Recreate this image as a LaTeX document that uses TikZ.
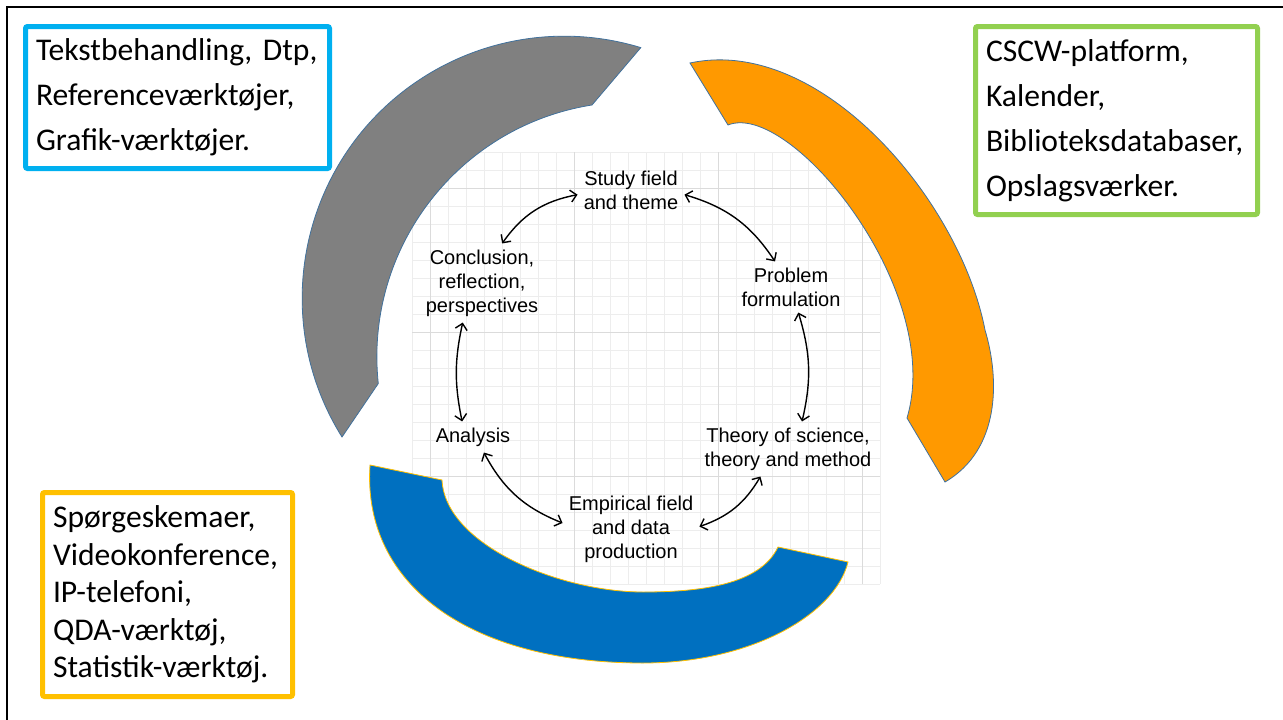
\documentclass[tikz,border=0pt]{standalone}
\usepackage{fontspec}
\setmainfont{Carlito}
\setsansfont{Liberation Sans}
\usetikzlibrary{arrows.meta}
\definecolor{boxblue}{HTML}{00B0F0}
\definecolor{boxgreen}{HTML}{92D050}
\definecolor{boxyellow}{HTML}{FFC000}
\definecolor{ringblue}{HTML}{0070C0}
\definecolor{ringorange}{HTML}{FF9900}
\definecolor{ringgrey}{HTML}{808080}
\definecolor{rimblue}{HTML}{41719C}
\newcommand\toolfont{\frenchspacing\hyphenpenalty=10000\relax\exhyphenpenalty=10000\relax}
\tikzset{
  toolbox/.style={draw, line width=5pt, rounded corners=2pt, align=left, inner xsep=10.5pt,
    font=\toolfont\fontsize{31.6}{45}\selectfont},
  stage/.style={align=center, inner sep=6pt, font=\sffamily\fontsize{20}{24}\selectfont},
  cyclearrow/.style={{Straight Barb[length=6pt,width=12pt]}-{Straight Barb[length=6pt,width=12pt]}, line width=1.4pt},
  gridline/.style={black!7, line width=0.8pt},
  majorline/.style={black!14, line width=1pt}
}
\begin{document}
\begin{tikzpicture}[x=1pt, y=-1pt]
    \useasboundingbox (0,0) rectangle (1283,720);
    \fill[white] (0,0) rectangle (1283,720);
    \draw[line width=2.5pt] (7,720) -- (7,7) -- (1283,7);
    % grid
    \foreach \gx in {412,430,...,880} \draw[gridline] (\gx,152) -- (\gx,584);
    \foreach \gy in {152,170,...,584} \draw[gridline] (412,\gy) -- (880,\gy);
    \foreach \gx in {430,574,718,862} \draw[majorline] (\gx,152) -- (\gx,584);
    \foreach \gy in {188,332,476} \draw[majorline] (412,\gy) -- (880,\gy);
    % ring pieces
    \filldraw[fill=ringgrey, draw=rimblue, line width=0.8pt]
        (342,437) arc[start angle=148, end angle=287, radius=262]
        -- (592,105) arc[start angle=261, end angle=174, radius=255] -- cycle;
    \filldraw[fill=ringorange, draw=rimblue, line width=0.8pt]
        (690,63) .. controls (820,35) and (960,200) .. (985,330)
        .. controls (1000,380) and (1000,450) .. (945,482)
        -- (907,418) .. controls (945,290) and (790,100) .. (728,125) -- cycle;
    \filldraw[fill=ringblue, draw=boxyellow, line width=0.8pt]
        (370,465) .. controls (362,585) and (470,663) .. (643,663)
        .. controls (750,663) and (835,615) .. (848,562)
        -- (778,547) .. controls (760,585) and (700,592) .. (643,592)
        .. controls (560,592) and (445,545) .. (442,480) -- cycle;
    % tool boxes
    \node[toolbox, draw=boxblue, minimum width=304pt, minimum height=142pt, text width=283pt] (writebox) at (177.5,97.5)
        {Tekstbehandling, Dtp,\\Referenceværktøjer,\\Grafik-værktøjer.};
    \node[toolbox, draw=boxgreen, minimum width=282pt, minimum height=188pt, text width=261pt] (searchbox) at (1116.5,120.5)
        {CSCW-platform,\\Kalender,\\Biblioteksdatabaser,\\Opslagsværker.};
    \node[toolbox, draw=boxyellow, minimum width=250pt, minimum height=204pt, text width=229pt,
        font=\toolfont\fontsize{31.6}{37.5}\selectfont] (databox) at (167.5,594.5)
        {Spørgeskemaer,\\Videokonference,\\IP-telefoni,\\QDA-værktøj,\\Statistik-værktøj.};
    % research cycle
    \node[stage] (study) at (631,190) {Study field\\and theme};
    \node[stage] (problem) at (791,287) {Problem\\formulation};
    \node[stage] (theory) at (788,449) {Theory of science,\\theory and method};
    \node[stage] (empirical) at (631,529) {Empirical field\\and data\\production};
    \node[stage] (analysis) at (473,437) {Analysis};
    \node[stage] (conclusion) at (482,283) {Conclusion,\\reflection,\\perspectives};
    \draw[cyclearrow] (study.355) to[bend left=20] (problem.122);
    \draw[cyclearrow] (problem.286) to[bend left=15] (theory.63);
    \draw[cyclearrow] (theory.225) to[bend left=20] (empirical.2);
    \draw[cyclearrow] (empirical.175) to[bend left=20] (analysis.305);
    \draw[cyclearrow] (analysis.125) to[bend left=12] (conclusion.244);
    \draw[cyclearrow] (conclusion.63) to[bend left=22] (study.185);
\end{tikzpicture}
\end{document}
